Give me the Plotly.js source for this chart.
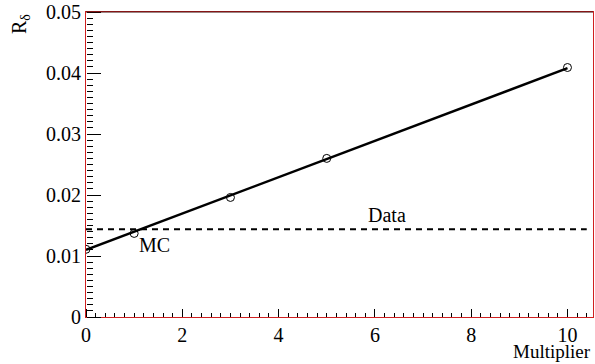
<!DOCTYPE html>
<html>
<head>
<meta charset="utf-8">
<script src="https://cdn.plot.ly/plotly-3.0.1.min.js"></script>
<style>html,body{margin:0;padding:0;background:#fff;}#plot{width:595px;height:364px;}</style>
</head>
<body>
<div id="plot"></div>
<script>
// Data
const multiplier = [0, 1, 3, 5, 10];
const rDelta = [0.0111, 0.0137, 0.0196, 0.0260, 0.0409];
const fitX = [0, 10];
const fitY = [0.0110, 0.0408];
const dataLevel = 0.0144;
const dataLineX = [0, 10.4];
const xRange = [0, 10.53];
const yRange = [0, 0.05];
const xTickStep = 2;
const yTickStep = 0.01;

const font = "Liberation Serif";

const traces = [
  {x: dataLineX, y: dataLineX.map(() => dataLevel), mode: "lines",
   line: {color: "#000", width: 2, dash: "6px,5px"}, hoverinfo: "skip"},
  {x: fitX, y: fitY, mode: "lines", line: {color: "#000", width: 2.5}, hoverinfo: "skip"},
  {x: multiplier, y: rDelta, mode: "markers",
   marker: {symbol: "circle-open", size: 8, color: "#000", line: {width: 1, color: "#000"}}},
  // invisible trace so the tick-only overlay axes are drawn
  {x: multiplier, y: rDelta, xaxis: "x2", yaxis: "y2", mode: "markers",
   marker: {size: 1, opacity: 0}, hoverinfo: "skip"}
];

const layout = {
  width: 595, height: 364,
  margin: {l: 86, r: 2, t: 12, b: 47},
  paper_bgcolor: "#fff", plot_bgcolor: "#fff",
  showlegend: false,
  font: {family: font, size: 20, color: "#000"},
  xaxis: {
    range: xRange, tickmode: "linear", tick0: 0, dtick: xTickStep, ticks: "",
    showgrid: false, zeroline: false, showline: true, linecolor: "#d02020", linewidth: 1, mirror: true,
    tickfont: {family: font, size: 20, color: "#000"}
  },
  yaxis: {
    range: yRange, tickmode: "linear", tick0: 0, dtick: yTickStep, ticks: "",
    showgrid: false, zeroline: false, showline: true, linecolor: "#d02020", linewidth: 1, mirror: true,
    tickfont: {family: font, size: 20, color: "#000"}
  },
  // tick-only axes placed on the frame, whose "outside" ticks point into the plot
  xaxis2: {
    overlaying: "x", side: "top", anchor: "free", position: 0,
    range: xRange, tickmode: "linear", tick0: 0, dtick: xTickStep,
    ticks: "outside", ticklen: 8, tickwidth: 1, tickcolor: "#000",
    minor: {dtick: xTickStep / 10, ticks: "outside", ticklen: 4, tickwidth: 1, tickcolor: "#000", showgrid: false},
    showticklabels: false, showgrid: false, zeroline: false, showline: false
  },
  yaxis2: {
    overlaying: "y", side: "right", anchor: "free", position: 0,
    range: yRange, tickmode: "linear", tick0: 0, dtick: yTickStep,
    ticks: "outside", ticklen: 14, tickwidth: 1, tickcolor: "#000",
    minor: {dtick: yTickStep / 10, ticks: "outside", ticklen: 6, tickwidth: 1, tickcolor: "#000", showgrid: false},
    showticklabels: false, showgrid: false, zeroline: false, showline: false
  },
  shapes: [
    {type: "line", xref: "paper", yref: "paper", x0: 0, x1: 1, y0: 1, y1: 1,
     line: {color: "#3a0a0a", width: 1}}
  ],
  annotations: [
    {x: 6.25, y: 0.0167, xref: "x", yref: "y", text: "Data", showarrow: false,
     font: {family: font, size: 20, color: "#000"}},
    {x: 1.43, y: 0.0118, xref: "x", yref: "y", text: "MC", showarrow: false,
     font: {family: font, size: 20, color: "#000"}},
    {x: 1, y: 0, xref: "paper", yref: "paper", xanchor: "right", yanchor: "bottom", yshift: -47,
     text: "Multiplier", showarrow: false, font: {family: font, size: 19, color: "#000"}},
    {x: 0, y: 1, xref: "paper", yref: "paper", xanchor: "center", yanchor: "top", xshift: -66, yshift: 0,
     text: "R<sub>δ</sub>", textangle: -90, showarrow: false, font: {family: font, size: 20, color: "#000"}}
  ]
};

Plotly.newPlot("plot", traces, layout, {displayModeBar: false, staticPlot: true});
</script>
</body>
</html>
